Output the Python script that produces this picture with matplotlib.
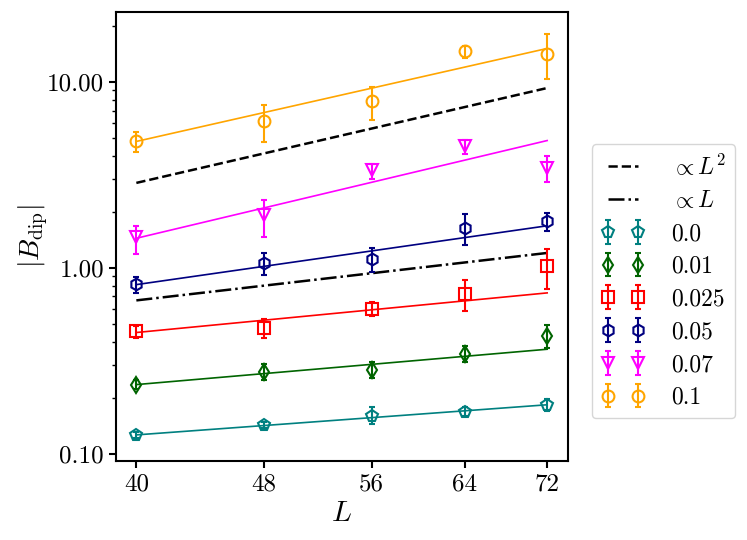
import matplotlib
matplotlib.use("Agg")
import matplotlib.pyplot as plt
import numpy as np
from matplotlib.ticker import FixedLocator, FormatStrFormatter, NullFormatter, NullLocator

plt.rcParams["font.family"] = "serif"
plt.rcParams["font.serif"] = ["cmr10"]
plt.rcParams["mathtext.fontset"] = "cm"
plt.rcParams["axes.formatter.use_mathtext"] = True

# system sizes
L = np.array([40, 48, 56, 64, 72])

# |B_dip| per disorder strength: values, lower/upper error bar ends
labels = ["0.0", "0.01", "0.025", "0.05", "0.07", "0.1"]
colors = ["teal", "darkgreen", "red", "navy", "magenta", "orange"]
markers = ["p", "d", "s", "h", "v", "o"]

b_00 = [0.126, 0.142, 0.160, 0.168, 0.183]
lo_00 = [0.121, 0.137, 0.145, 0.160, 0.169]
hi_00 = [0.131, 0.147, 0.178, 0.177, 0.197]

b_001 = [0.235, 0.273, 0.281, 0.343, 0.430]
lo_001 = [0.222, 0.250, 0.255, 0.309, 0.369]
hi_001 = [0.248, 0.303, 0.309, 0.380, 0.490]

b_0025 = [0.457, 0.476, 0.601, 0.723, 1.016]
lo_0025 = [0.421, 0.416, 0.549, 0.584, 0.769]
hi_0025 = [0.485, 0.532, 0.652, 0.863, 1.260]

b_005 = [0.818, 1.06, 1.11, 1.64, 1.78]
lo_005 = [0.732, 0.917, 0.944, 1.33, 1.58]
hi_005 = [0.888, 1.20, 1.27, 1.94, 1.98]

b_007 = [1.47, 1.92, 3.34, 4.49, 3.45]
lo_007 = [1.19, 1.47, 2.99, 4.07, 2.89]
hi_007 = [1.68, 2.31, 3.63, 4.84, 3.99]

b_01 = [4.78, 6.13, 7.85, 14.6, 14.2]
lo_01 = [4.20, 4.76, 6.26, 13.5, 10.3]
hi_01 = [5.36, 7.50, 9.40, 15.6, 18.2]

values = [b_00, b_001, b_0025, b_005, b_007, b_01]
lows = [lo_00, lo_001, lo_0025, lo_005, lo_007, lo_01]
highs = [hi_00, hi_001, hi_0025, hi_005, hi_007, hi_01]

# power-law fits |B| = A (L/40)^p
fit_amp = [0.126, 0.235, 0.448, 0.811, 1.44, 4.78]
fit_exp = [0.635, 0.745, 0.835, 1.24, 2.06, 1.96]

# reference scalings
ref_l2_amp = 2.86
ref_l1_amp = 0.667

fig = plt.figure(figsize=(7.47, 5.40), dpi=100)
ax = fig.add_axes([0.155, 0.146, 0.605, 0.832])

ax.plot(L, ref_l2_amp * (L / 40) ** 2, "k--", lw=1.8, label=r"$\propto L^2$")
ax.plot(L, ref_l1_amp * (L / 40), "k-.", lw=1.8, label=r"$\propto L$")

for lab, c, m, v, lo, hi, a, p in zip(labels, colors, markers, values, lows, highs, fit_amp, fit_exp):
    v = np.array(v)
    err = [v - np.array(lo), np.array(hi) - v]
    ax.errorbar(L, v, yerr=err, fmt=m, color=c, mfc="none", mec=c, ms=8.5, mew=1.5,
                elinewidth=1.5, capsize=2.5, capthick=1.5, label=lab)
    ax.plot(L, a * (L / 40) ** p, "-", color=c, lw=1.2)

ax.set_xscale("log")
ax.set_yscale("log")
ax.set_xlim(38.84, 74.15)
ax.set_ylim(0.091, 23.8)
ax.xaxis.set_major_locator(FixedLocator(L))
ax.xaxis.set_major_formatter(FormatStrFormatter("%d"))
ax.xaxis.set_minor_locator(NullLocator())
ax.xaxis.set_minor_formatter(NullFormatter())
ax.yaxis.set_major_formatter(FormatStrFormatter("%.2f"))
ax.yaxis.set_minor_formatter(NullFormatter())
ax.tick_params(axis="both", which="major", labelsize=18, width=1.5, length=5)
ax.tick_params(axis="y", which="minor", width=1.0, length=3)
for s in ax.spines.values():
    s.set_linewidth(1.5)

ax.set_xlabel(r"$L$", fontsize=21, labelpad=4)
ax.set_ylabel(r"$|B_{\rm dip}|$", fontsize=20, labelpad=-2)

ax.legend(loc="upper left", bbox_to_anchor=(1.053, 0.706), numpoints=2, fontsize=17,
          handlelength=1.85, handletextpad=1.1, labelspacing=0.45, borderaxespad=0.0)

fig.savefig("out.png", dpi=100)
